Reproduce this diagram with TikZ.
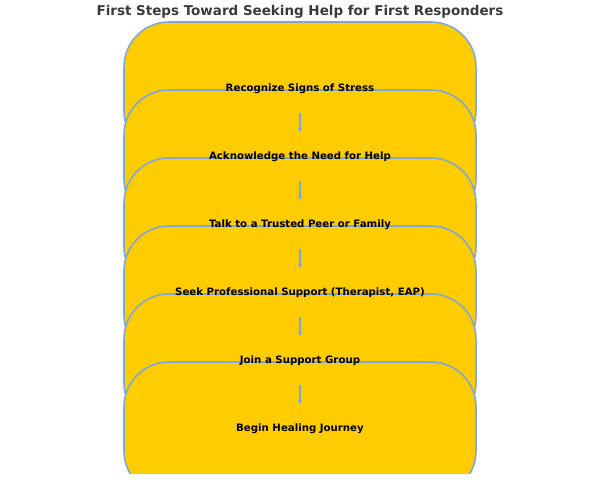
\documentclass[tikz,border=0pt]{standalone}
\usepackage{fontspec}
\setmainfont{DejaVu Sans}
\usetikzlibrary{arrows.meta}
\definecolor{boxfill}{HTML}{FFCC00}
\definecolor{boxedge}{HTML}{7EA6DC}
\definecolor{titlec}{HTML}{3A3A3A}
\tikzset{
  stepbox/.style={draw=boxedge, fill=boxfill, line width=1.3pt, rounded corners=1.35cm,
    minimum width=10.56cm, minimum height=4.02cm, inner sep=0pt},
  steptext/.style={font=\bfseries\fontsize{8.7}{10}\selectfont, text=black},
  arr/.style={draw=boxedge, line width=1.2pt, -{Stealth[length=4pt,width=4pt]}}
}
\begin{document}
\begin{tikzpicture}[x=0.03cm,y=-0.03cm]
\useasboundingbox (0,0) rectangle (600,479);
\node[font=\bfseries\fontsize{11.5}{13}\selectfont, text=titlec] (title) at (300,12) {First Steps Toward Seeking Help for First Responders};
\begin{scope}
\clip (0,0) rectangle (600,473);
\foreach \i in {1,...,6} {
  \node[stepbox] (b\i) at (300,{89+68*(\i-1)}) {};
}
\end{scope}
\foreach \i [evaluate=\i as \j using int(\i+1)] in {1,...,5} {
  \draw[arr] ([yshift=-0.72cm]b\i.center) -- ([yshift=0.75cm]b\j.center);
}
\node[steptext] (t1) at (b1.center) {Recognize Signs of Stress};
\node[steptext] (t2) at (b2.center) {Acknowledge the Need for Help};
\node[steptext] (t3) at (b3.center) {Talk to a Trusted Peer or Family};
\node[steptext] (t4) at (b4.center) {Seek Professional Support (Therapist, EAP)};
\node[steptext] (t5) at (b5.center) {Join a Support Group};
\node[steptext] (t6) at (b6.center) {Begin Healing Journey};
\end{tikzpicture}
\end{document}
